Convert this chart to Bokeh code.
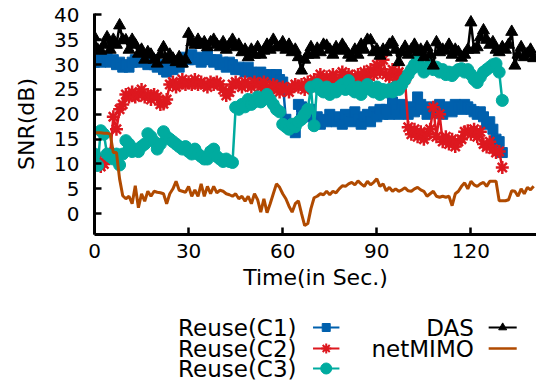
from bokeh.plotting import figure
from bokeh.layouts import column
from bokeh.models import Range1d, FixedTicker
from bokeh.embed import file_html
from bokeh.resources import INLINE
from bokeh.core.properties import value

# ---------------- data ----------------
t_reuse = list(range(0, 131))
t_full = list(range(0, 141))

reuse_c1 = [30.5, 31, 30.5, 31, 31.5, 30.5, 31, 30, 30.5, 29.5, 30, 29.5, 30.5, 31, 30.5, 31, 31.5, 30, 31, 30,
            29.5, 30, 29, 28.5, 29.5, 29, 30, 29.5, 30.5, 31.5, 31, 32, 31, 31.5, 30.5, 31, 32, 31, 30.5, 31,
            30, 30.5, 29.5, 30.5, 30, 29, 29.5, 29, 28.5, 29.5, 28.5, 28, 27.8, 28.5, 28, 27.5, 28, 27.5, 28, 27,
            26.5, 19, 18, 17, 16.3, 22, 21.5, 20, 19.5, 21, 18, 19.5, 18, 19, 18.5, 20, 19, 18.5, 19.5, 18,
            20, 19, 18.5, 20.5, 19, 18, 19.5, 20, 18.5, 20.5, 19.5, 21, 20, 21, 20, 22.5, 21, 20, 22, 21,
            20, 21.5, 20.5, 23.5, 22, 21, 20, 21.5, 20.5, 21, 22, 20, 21.5, 21, 20.5, 22, 21.5, 21, 22, 21.5,
            21, 20.5, 20, 20.5, 19.5, 18, 18.5, 17, 15, 14.5, 12.3]

reuse_c2 = [12, 11, 9.5, 10, 11.5, 12, 19.5, 17, 21, 22, 24, 23.5, 24.5, 23.5, 24, 25, 23.5, 24, 23, 24,
            23.5, 22, 22.1, 23, 26, 26.5, 25.5, 26, 27, 26, 26.5, 26, 27, 26, 26.5, 26, 25.5, 26.5, 26, 26.5,
            26, 25, 23.8, 24.5, 26, 26.5, 26, 25.5, 26.5, 26, 25.5, 26.5, 26, 25.5, 26.5, 25.5, 25, 26, 25.5, 24.5,
            25.5, 25, 24.5, 25.5, 26, 25.5, 26, 25, 26.5, 25.5, 27, 26.5, 28, 27, 27.5, 26.5, 28, 27, 26.5, 28.5,
            27, 28, 27.5, 26.5, 28, 27, 28.5, 27, 29, 28, 30, 28.5, 31, 28, 27.5, 29, 27, 28.5, 27.5, 27,
            17.4, 16, 17, 15.5, 16.5, 15, 16, 17, 21.4, 15.5, 20, 14.5, 15.5, 14, 15, 13.5, 14.5, 15, 16.5, 16.7,
            16, 17, 15.5, 16.5, 14, 13.4, 14.5, 13, 12.3, 12.5, 9.3]

reuse_c3 = [12, 9.7, 16.7, 16, 12, 11.5, 11, 12, 9.8, 12, 14.7, 14, 12.5, 13, 12.5, 13.5, 14, 16.1, 15.5, 14.5,
            13, 14, 16.5, 15.5, 15, 14.5, 14, 13.5, 13, 13.5, 12.5, 12, 13, 12, 11.5, 11, 11, 12.5, 13, 11.5,
            11, 10.5, 11, 10.5, 10.3, 21.4, 21, 22, 21.5, 23, 22, 22.5, 23.5, 22.5, 23, 24, 23, 22, 21, 20.5,
            18, 17.5, 17, 18, 17.5, 18.5, 19, 20, 21, 25.5, 17.7, 26, 25, 24.5, 25.5, 24, 25, 24.5, 25.5, 26,
            25, 26.8, 25, 24.5, 25.5, 24, 25, 26, 25, 24.5, 25.5, 24, 25, 24.5, 25, 24.5, 25.5, 25, 26, 27,
            28, 29, 30, 30.8, 29.5, 28.5, 29.5, 30, 29, 29.5, 28.5, 29, 28, 28.5, 27.8, 28.5, 29, 29.2, 28.5, 29,
            28, 27, 26.4, 27.5, 28.5, 29, 29.5, 30, 30.2, 28.5, 22.8]

das = [35.5, 33, 32.8, 34, 35.5, 33, 35, 34, 37.9, 35, 34.9, 33, 35, 34, 32.2, 33, 31, 32.5, 32, 31,
       30.2, 32, 33.5, 31, 32, 31.2, 30.5, 31.5, 30.2, 31, 36.2, 34.5, 34, 35, 34, 34.5, 33.5, 34.5, 35, 34,
       33.5, 34.5, 33, 34, 35, 33.5, 34, 32.5, 33, 31.5, 33, 32, 33.5, 32, 32.8, 34, 33, 35, 33.5, 33.5,
       34.5, 33, 34, 32.5, 33, 31.5, 28.8, 31, 32, 33.5, 32, 33.2, 32.5, 34, 33.8, 33, 32, 33.5, 32.8, 34,
       33, 32, 31.4, 33, 32, 34, 33, 35, 34.9, 32.5, 33, 31.8, 33, 32.5, 34, 34.5, 33, 30.5, 32.5, 33.6,
       32, 33, 34, 32.5, 33, 31.5, 33.5, 32, 29.8, 34.5, 32.5, 33, 32.8, 34, 32, 33, 32.5, 31.4, 32, 33,
       38.5, 33, 33.5, 35.5, 36.9, 35, 34, 34.5, 33, 32.5, 33.5, 33, 34, 36.6, 29.8, 32, 33.5, 31.5, 32.2, 33,
       31.3]

netmimo = [16.3, 16.3, 16.3, 16.2, 16.2, 16, 12.3, 12.3, 7, 3.6, 3, 3.5, 2, 5.6, 1.2, 4, 2.5, 4.5, 3.5, 4.5,
           4.3, 4.2, 4, 2, 4, 5, 6.5, 4.7, 4.5, 4.3, 5.5, 3.5, 4.8, 3.5, 6, 3.5, 5.5, 4, 5.5, 4.2,
           4.7, 4.5, 4, 3.8, 3.5, 4, 3, 3.5, 2.5, 3.5, 2, 4, 2.8, 0.3, 3, 0.2, 2, 4, 6, 5.3,
           4, 3, 1.5, 0.3, 2, 2.6, 0, -2.4, -2, 1, 3.2, 3.5, 4, 3.8, 4.5, 3.8, 4.5, 4.2, 5, 5.6,
           5.5, 6, 6.3, 5.8, 6.6, 6, 5.5, 6.5, 5.8, 6.3, 7, 5.5, 6, 4.6, 5.3, 4.5, 5, 4.5, 4.8, 5.2,
           4.6, 4.5, 5, 5.3, 4.8, 4.5, 3.5, 4, 4.5, 3.5, 3.3, 3.5, 3.3, 3.5, 1.6, 4, 4.5, 5.5, 6.2, 5,
           6.5, 5.8, 5.5, 6, 6.3, 5.5, 6.5, 6.5, 6.5, 2.6, 2.6, 2.6, 2.8, 4.6, 4.5, 3.5, 5, 4, 5.3, 4.8,
           5.5]

x_ticks = [0, 30, 60, 90, 120]
y_ticks = [0, 5, 10, 15, 20, 25, 30, 35, 40]

labels_left = ["Reuse(C1)", "Reuse(C2)", "Reuse(C3)"]
labels_right = ["DAS", "netMIMO"]

C_BLUE = "#0060ad"
C_RED = "#dd181f"
C_TEAL = "#00ab9f"
C_BLACK = "#000000"
C_BROWN = "#b04a00"

FONT = "DejaVu Sans"

# ---------------- main plot ----------------
p = figure(width=536, height=300, output_backend="svg", toolbar_location=None,
           x_range=Range1d(0, 140.9), y_range=Range1d(-4.2, 40.3),
           min_border_left=94, min_border_right=0, min_border_top=13, min_border_bottom=66)
p.outline_line_color = None
p.grid.visible = False
p.background_fill_color = "white"
p.border_fill_color = "white"

p.line(t_reuse, reuse_c1, line_color=C_BLUE, line_width=2.5)
p.scatter(t_reuse, reuse_c1, marker="square", size=10, fill_color=C_BLUE, line_color=C_BLUE)

p.line(t_reuse, reuse_c2, line_color=C_RED, line_width=2.5)
p.scatter(t_reuse, reuse_c2, marker="asterisk", size=13, line_color=C_RED, line_width=2.5)

p.line(t_reuse, reuse_c3, line_color=C_TEAL, line_width=2.5)
p.scatter(t_reuse, reuse_c3, marker="circle", size=12, fill_color=C_TEAL, line_color=C_TEAL)

p.line(t_full, das, line_color=C_BLACK, line_width=2.5)
p.scatter(t_full, das, marker="triangle", size=12, fill_color=C_BLACK, line_color=C_BLACK)

p.line(t_full, netmimo, line_color=C_BROWN, line_width=3)

for ax in (p.xaxis[0], p.yaxis[0]):
    ax.axis_line_width = 3
    ax.axis_line_color = "black"
    ax.major_tick_in = 7
    ax.major_tick_out = 0
    ax.major_tick_line_width = 2.5
    ax.minor_tick_line_color = None
    ax.major_label_text_font = FONT
    ax.major_label_text_font_size = "20px"
    ax.major_label_text_color = "black"
    ax.axis_label_text_font = FONT
    ax.axis_label_text_font_size = "22px"
    ax.axis_label_text_font_style = "normal"
    ax.axis_label_text_color = "black"

p.xaxis.ticker = FixedTicker(ticks=x_ticks)
p.yaxis.ticker = FixedTicker(ticks=y_ticks)
p.xaxis.axis_label = "Time(in Sec.)"
p.yaxis.axis_label = "SNR(dB)"
p.xaxis.major_label_standoff = 9
p.yaxis.major_label_standoff = 15
p.xaxis.axis_label_standoff = 4
p.yaxis.axis_label_standoff = 12

# ---------------- legend area ----------------
q = figure(width=536, height=88, output_backend="svg", toolbar_location=None,
           x_range=Range1d(0, 536), y_range=Range1d(388, 300),
           x_axis_location=None, y_axis_location=None,
           min_border_left=0, min_border_right=0, min_border_top=0, min_border_bottom=0)
q.outline_line_color = None
q.grid.visible = False

rows = [327, 348, 368]
q.text(x=[245] * 3, y=rows, text=labels_left, text_align="right", text_baseline="middle",
       text_font=value(FONT), text_font_size="23px", text_color="black")
q.text(x=[460] * 2, y=rows[:2], text=labels_right, text_align="right", text_baseline="middle",
       text_font=value(FONT), text_font_size="23px", text_color="black")

left_cols = [C_BLUE, C_RED, C_TEAL]
left_markers = ["square", "asterisk", "circle"]
left_sizes = [8, 10, 11]
for yy, c, m, s in zip(rows, left_cols, left_markers, left_sizes):
    q.line([265, 297], [yy, yy], line_color=c, line_width=2)
    if m == "asterisk":
        q.scatter([281], [yy], marker=m, size=s, line_color=c, line_width=2)
    else:
        q.scatter([281], [yy], marker=m, size=s, fill_color=c, line_color=c)

q.line([478, 512], [rows[0], rows[0]], line_color=C_BLACK, line_width=2)
q.scatter([495], [rows[0]], marker="triangle", size=8, fill_color=C_BLACK, line_color=C_BLACK)
q.line([478, 512], [rows[1], rows[1]], line_color=C_BROWN, line_width=2.5)

layout = column(p, q, spacing=0)
open("out.html", "w").write(file_html(layout, INLINE))
